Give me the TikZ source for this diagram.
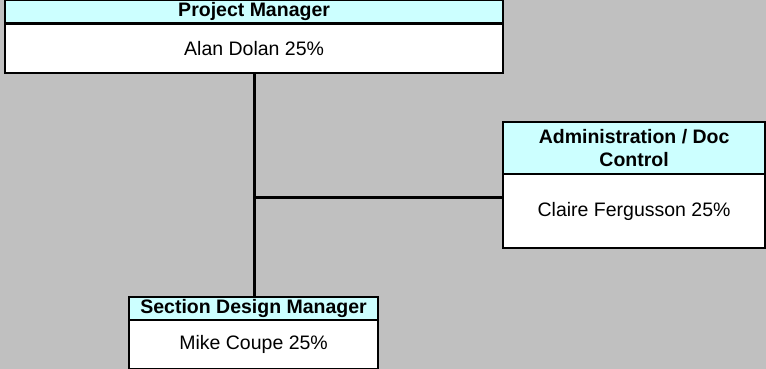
\documentclass[tikz,border=0pt]{standalone}
\usepackage{fontspec}
\setmainfont{Liberation Sans}
\definecolor{bg}{HTML}{C0C0C0}
\definecolor{hdr}{HTML}{CCFFFF}
\begin{document}
\begin{tikzpicture}[x=1pt,y=-1pt,
  boxpart/.style={draw=black,line width=2.2pt,inner sep=0pt,anchor=north west,align=center},
  hdrbox/.style={boxpart,fill=hdr,font=\fontsize{19.5}{23}\selectfont\bfseries},
  bodybox/.style={boxpart,fill=white,font=\fontsize{19.5}{23}\selectfont},
  link/.style={draw=black,line width=3pt}]
\fill[bg] (0,0) rectangle (766,369);
\useasboundingbox (0,0) rectangle (766,369);
% Project Manager
\node[hdrbox,minimum width=498pt,minimum height=24pt] (pmh) at (4,-1.5) {Project Manager};
\node[bodybox,minimum width=498pt,minimum height=49.5pt] (pmb) at (4,22.5) {Alan Dolan 25\%};
% Administration
\node[hdrbox,minimum width=262pt,minimum height=52pt] (adh) at (502,121) {Administration / Doc\\Control};
\node[bodybox,minimum width=262pt,minimum height=74pt] (adb) at (502,173) {Claire Fergusson 25\%};
% Section Design Manager
\node[hdrbox,minimum width=249pt,minimum height=23pt] (sdh) at (128,296) {Section Design Manager};
\node[bodybox,minimum width=249pt,minimum height=49pt] (sdb) at (128,319) {Mike Coupe 25\%};
% connectors
\coordinate (j) at (254,197);
\draw[link] (pmb.south -| j) -- (sdh.north -| j);
\draw[link] (j) -- (adb.west |- j);
\end{tikzpicture}
\end{document}
